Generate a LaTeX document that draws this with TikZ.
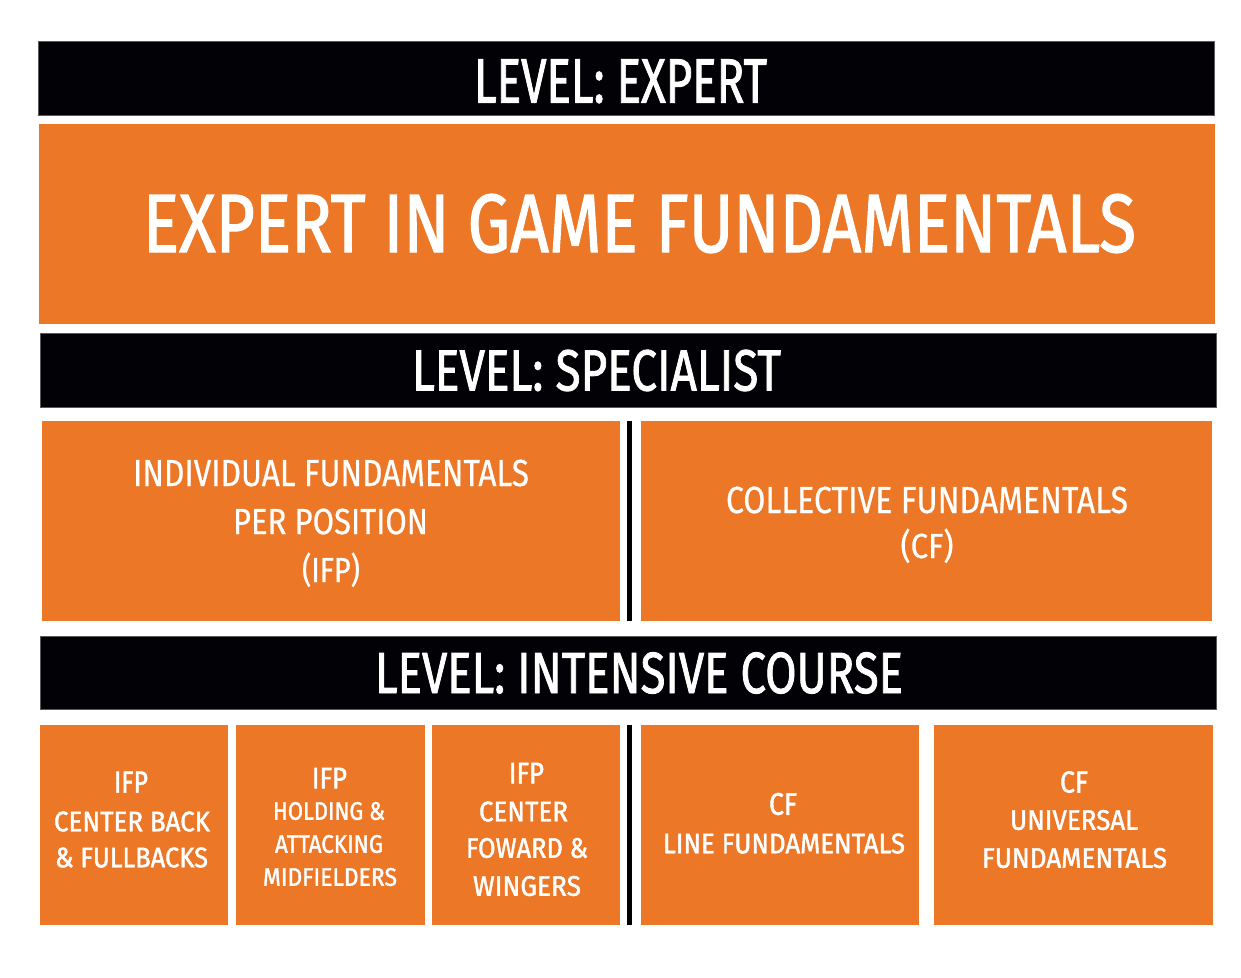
\documentclass[tikz,border=0pt]{standalone}
\usepackage{fontspec}
\usepackage{graphicx}
\setmainfont{Fira Sans}
\newfontfamily\firamid[FakeBold=1.6]{Fira Sans}
\newfontfamily\firalite[FakeBold=0.6]{Fira Sans}
\definecolor{ornge}{RGB}{235,119,39}
\definecolor{barblk}{RGB}{2,2,6}
\newlength\fitlen
\newcommand\fitto[2]{\settowidth\fitlen{#2}\pgfmathsetmacro\fitsx{#1/\fitlen}\scalebox{\fitsx}[1]{#2}}
% #1 style, #2 name, #3 x, #4 y centre of caps, #5 cap height, #6 width, #7 text
\newcommand\fitline[7]{%
  \pgfmathsetmacro\fsz{#5/0.689}%
  \pgfmathsetmacro\bly{#4+#5/2}%
  \node[#1] (#2) at (#3,\bly) {\fontsize{\fsz pt}{\fsz pt}\selectfont\fitto{#6}{#7}};}
\tikzset{
  blackbar/.style={fill=barblk, draw=black!65, line width=0.8pt, inner sep=0pt, minimum width=1176pt, minimum height=74pt},
  obox/.style={fill=ornge, draw=none, inner sep=0pt, minimum height=200pt},
  divbar/.style={fill=black, draw=none, inner sep=0pt, minimum width=5pt, minimum height=200pt},
  txtb/.style={text=white, inner sep=0pt, anchor=base, font=\firamid},
  txtr/.style={text=white, inner sep=0pt, anchor=base, font=\firalite},
}
\begin{document}
\begin{tikzpicture}[x=1pt,y=-1pt]
\useasboundingbox[fill=white] (0,0) rectangle (1241,977);
% boxes
\node[blackbar] (bar1) at (626,78) {};
\node[obox, minimum width=1176pt] (exp) at (627,224) {};
\node[blackbar] (bar2) at (628,370) {};
\node[obox, minimum width=578pt] (ifp) at (331,521) {};
\node[divbar] (div1) at (629.5,521) {};
\node[obox, minimum width=571pt] (cf) at (926.5,521) {};
\node[blackbar, minimum height=73pt] (bar3) at (628,672.5) {};
\node[obox, minimum width=188pt] (b1) at (134,825) {};
\node[obox, minimum width=189pt] (b2) at (330.5,825) {};
\node[obox, minimum width=188pt] (b3) at (526,825) {};
\node[divbar] (div2) at (629.5,825) {};
\node[obox, minimum width=278pt] (b4) at (780,825) {};
\node[obox, minimum width=279pt] (b5) at (1073.5,825) {};
% headings
\fitline{txtb}{t1}{620.5}{81}{43}{293}{LEVEL: EXPERT}
\fitline{txtb}{t2}{639.5}{223.5}{57}{993}{EXPERT IN GAME FUNDAMENTALS}
\fitline{txtb}{t3}{596.5}{370.5}{40}{369}{LEVEL: SPECIALIST}
\fitline{txtb}{t4}{639}{673}{40}{528}{LEVEL: INTENSIVE COURSE}
% specialist row
\fitline{txtr}{r1}{331}{473}{26}{396}{INDIVIDUAL FUNDAMENTALS}
\fitline{txtr}{r2}{330.5}{521.5}{25}{195}{PER POSITION}
\fitline{txtr}{r3}{331}{570}{24}{58}{(IFP)}
\fitline{txtr}{r4}{927}{500}{26}{402}{COLLECTIVE FUNDAMENTALS}
\fitline{txtr}{r5}{927}{546}{24}{53}{(CF)}
% intensive course row
\fitline{txtb}{a1}{131}{782}{21}{34}{IFP}
\fitline{txtb}{a2}{132}{821.5}{19.5}{156}{CENTER BACK}
\fitline{txtb}{a3}{131.5}{857.5}{19.5}{153}{\& FULLBACKS}
\fitline{txtb}{c1}{329.5}{778}{20.5}{35}{IFP}
\fitline{txtb}{c2}{329}{811}{17.5}{112}{HOLDING \&}
\fitline{txtb}{c3}{329}{844}{17.5}{108}{ATTACKING}
\fitline{txtb}{c4}{330}{877}{17.5}{134}{MIDFIELDERS}
\fitline{txtb}{d1}{526.5}{773}{20.5}{35}{IFP}
\fitline{txtb}{d2}{523.5}{811.5}{19.5}{89}{CENTER}
\fitline{txtb}{d3}{527}{848}{19.5}{122}{FOWARD \&}
\fitline{txtb}{d4}{527}{886}{19.5}{108}{WINGERS}
\fitline{txtb}{e1}{783}{804}{21.5}{28}{CF}
\fitline{txtb}{e2}{784}{843.5}{19.5}{242}{LINE FUNDAMENTALS}
\fitline{txtb}{f1}{1074}{782}{21}{28}{CF}
\fitline{txtb}{f2}{1074}{820}{19.5}{128}{UNIVERSAL}
\fitline{txtb}{f3}{1074.5}{858}{19.5}{185}{FUNDAMENTALS}
\end{tikzpicture}
\end{document}
